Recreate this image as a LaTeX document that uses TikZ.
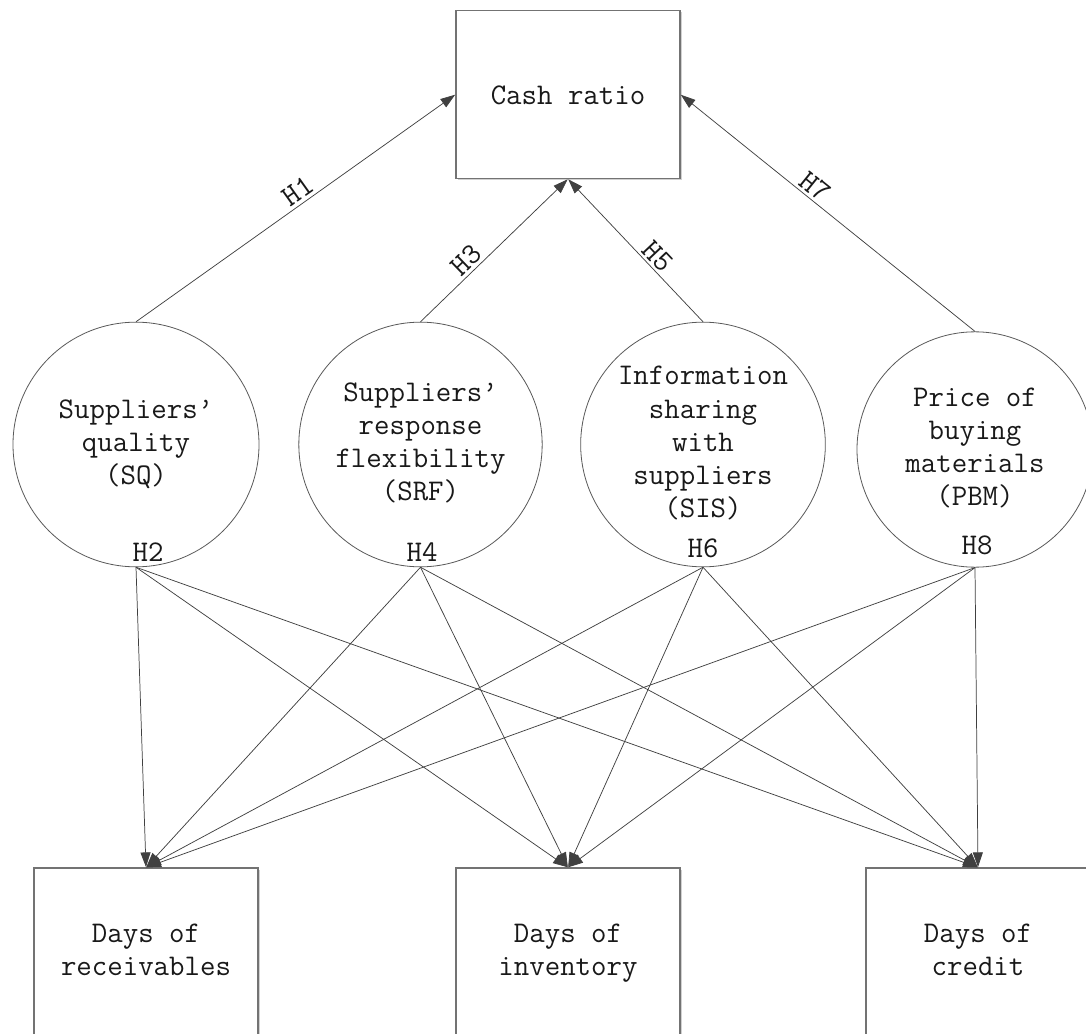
\documentclass[tikz,border=0pt]{standalone}
\usepackage{fontspec}
\usetikzlibrary{arrows.meta,shapes.geometric,shadows}
\begin{document}
\begin{tikzpicture}[x=0.75pt,y=-0.75pt,
  every node/.style={font=\ttfamily\fontsize{22.5}{24.8}\selectfont, text=black!90},
  box/.style={draw=black!55, line width=0.8pt, fill=white, minimum width=168pt, minimum height=126pt, inner sep=0pt, align=center,
    general shadow={shadow xshift=1.5pt, shadow yshift=-1.5pt, fill=black!18}},
  circ/.style={ellipse, draw=black!65, line width=0.6pt, fill=white, inner sep=0pt, align=center},
  conn/.style={draw=black!75, line width=0.55pt, -{Triangle[length=11pt,width=7.5pt]}, shorten >=0.3pt},
  lab/.style={sloped, above, inner sep=2pt},
  hlab/.style={inner sep=0pt}
]
\clip (0,0) rectangle (1086,1034);
\fill[white] (0,0) rectangle (1086,1034);

% target boxes
\node[box] (cash) at (568,94.5) {\raisebox{-2.5pt}[17.4pt][7.4pt]{Cash ratio}};
\node[box] (recv) at (146,952) {\strut Days of\\receivables\strut};
\node[box] (inv) at (568,952) {\strut Days of\\inventory\strut};
\node[box] (cred) at (978,952) {\strut Days of\\credit\strut};

% circles
\node[circ, minimum width=184.5pt, minimum height=183.5pt] (sq) at (136,444.5) {\strut Suppliers’\\quality\\(SQ)\strut};
\node[circ, minimum width=182.5pt, minimum height=183.5pt] (srf) at (420.5,444.5) {\strut Suppliers’\\response\\flexibility\\(SRF)\strut};
\node[circ, minimum width=183.5pt, minimum height=183.5pt] (sis) at (703,444.5) {\strut Information\\sharing\\with\\suppliers\\(SIS)\strut};
\node[circ, minimum width=177pt, minimum height=176.5pt] (pbm) at (975,449.5) {\strut Price of\\buying\\materials\\(PBM)\strut};

% H labels inside circles
\node[hlab] (h2) at (148,552) {H2};
\node[hlab] (h4) at (422,552) {H4};
\node[hlab] (h6) at (703,548) {H6};
\node[hlab] (h8) at (977,545) {H8};

% arrows to cash ratio
\draw[conn] (sq.north) -- node[lab, pos=0.53] {H1} (cash.west);
\draw[conn] (srf.north) -- node[lab, pos=0.37] {H3} (cash.south);
\draw[conn] (sis.north) -- node[lab, pos=0.40] {H5} (cash.south);
\draw[conn] (pbm.north) -- node[lab, pos=0.57] {H7} (cash.east);

% arrows to bottom boxes
\foreach \s in {sq,srf,sis,pbm}{
  \draw[conn] (\s.south) -- (recv.north);
  \draw[conn] (\s.south) -- (inv.north);
  \draw[conn] (\s.south) -- (cred.north);
}
\end{tikzpicture}
\end{document}
